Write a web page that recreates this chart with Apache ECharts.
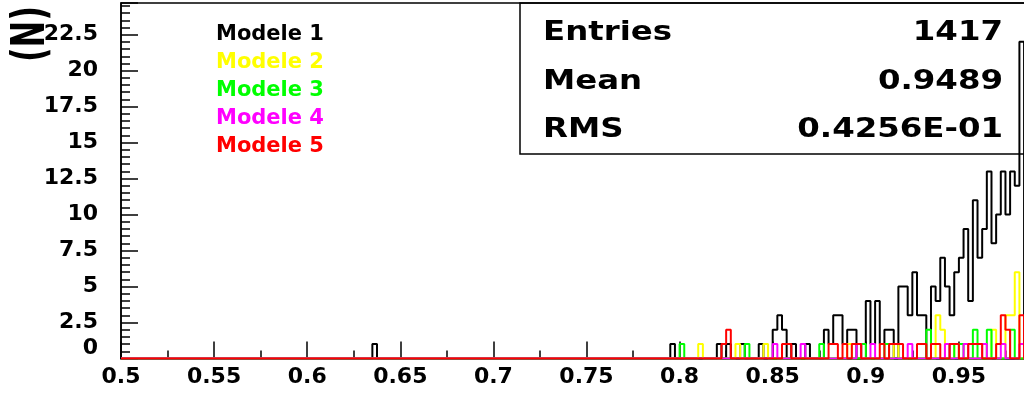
<!DOCTYPE html>
<html>
<head>
<meta charset="utf-8">
<script src="https://cdn.jsdelivr.net/npm/echarts@6/dist/echarts.min.js"></script>
<style>
  html, body { margin: 0; padding: 0; background: #ffffff; }
  #chart { width: 1024px; height: 396px; }
</style>
</head>
<body>
<div id="chart"></div>
<script>
// Histogram binning
const xMin = 0.5;
const xMax = 1.0;
const binWidth = 0.0025;

const seriesNames = ['Modele 1', 'Modele 2', 'Modele 3', 'Modele 4', 'Modele 5'];
const seriesColors = ['#000000', '#ffff00', '#00ff00', '#ff00ff', '#ff0000'];

// Non-empty bins of each model: [lower bin edge, entries]
const modele1 = [
  [0.635, 1], [0.795, 1], [0.82, 1], [0.825, 1], [0.8325, 1], [0.8425, 1],
  [0.85, 2], [0.8525, 3], [0.855, 2], [0.86, 1], [0.8675, 1],
  [0.8775, 2], [0.88, 1], [0.8825, 3], [0.885, 3], [0.8875, 1], [0.89, 2], [0.8925, 2],
  [0.8975, 1], [0.9, 4], [0.9025, 1], [0.905, 4], [0.9075, 1], [0.91, 2], [0.9125, 2],
  [0.9175, 5], [0.92, 5], [0.9225, 3], [0.925, 6], [0.9275, 3], [0.93, 3],
  [0.935, 5], [0.9375, 4], [0.94, 7], [0.9425, 5], [0.945, 3], [0.9475, 6],
  [0.95, 7], [0.9525, 9], [0.955, 4], [0.9575, 11], [0.96, 7], [0.9625, 9],
  [0.965, 13], [0.9675, 8], [0.97, 10], [0.9725, 13], [0.975, 10], [0.9775, 13],
  [0.98, 12], [0.9825, 22]
];
const modele2 = [
  [0.81, 1], [0.83, 1], [0.845, 1], [0.89, 1], [0.915, 1], [0.9375, 3], [0.94, 2],
  [0.9475, 1], [0.9675, 2], [0.975, 3], [0.9775, 3], [0.98, 6]
];
const modele3 = [
  [0.8, 1], [0.835, 1], [0.875, 1], [0.8975, 1], [0.91, 1], [0.9325, 2],
  [0.945, 1], [0.95, 1], [0.9575, 2], [0.965, 2], [0.9775, 2]
];
const modele4 = [
  [0.85, 1], [0.865, 1], [0.895, 1], [0.9025, 1], [0.9225, 1], [0.9425, 1],
  [0.9525, 1], [0.9625, 1], [0.9725, 1], [0.9825, 1]
];
const modele5 = [
  [0.8225, 1], [0.825, 2], [0.855, 1], [0.8575, 1], [0.88, 1], [0.8825, 1],
  [0.8875, 1], [0.8925, 1], [0.895, 1], [0.9075, 1], [0.9125, 1], [0.915, 1],
  [0.9175, 1], [0.9275, 1], [0.93, 1], [0.935, 1], [0.9375, 1], [0.945, 1],
  [0.9475, 1], [0.955, 1], [0.9575, 1], [0.96, 1], [0.97, 1], [0.9725, 3],
  [0.975, 2], [0.9825, 3]
];

const xTickLabels = ['0.5', '0.55', '0.6', '0.65', '0.7', '0.75', '0.8', '0.85', '0.9', '0.95', '1'];
const yTickLabels = ['0', '2.5', '5', '7.5', '10', '12.5', '15', '17.5', '20', '22.5'];
const yTitle = '(N)';

const statsLabels = ['Entries', 'Mean', 'RMS'];
const statsValues = ['1417', '0.9489', '0.4256E-01'];

// Expand sparse bins into a full outline (one point per lower edge, closed at xMax)
function histOutline(bins) {
  const n = Math.round((xMax - xMin) / binWidth);
  const counts = new Array(n).fill(0);
  bins.forEach(([edge, c]) => { counts[Math.round((edge - xMin) / binWidth)] = c; });
  const pts = counts.map((c, i) => [xMin + i * binWidth, c]);
  pts.push([xMax, 0]);
  return pts;
}

const allBins = [modele1, modele2, modele3, modele4, modele5];
const FONT = 'DejaVu Sans';

const chart = echarts.init(document.getElementById('chart'), null, { renderer: 'canvas' });

const statsGraphics = [];
statsLabels.forEach((lab, i) => {
  const y = 33 + i * 48.5;
  statsGraphics.push({
    type: 'text', x: 543, y: y, scaleX: 1.2,
    style: { text: lab, fontFamily: FONT, fontWeight: 'bold', fontSize: 27, fill: '#000',
             textAlign: 'left', textVerticalAlign: 'middle' }
  });
  statsGraphics.push({
    type: 'text', x: 1003, y: y, scaleX: 1.2,
    style: { text: statsValues[i], fontFamily: FONT, fontWeight: 'bold', fontSize: 27, fill: '#000',
             textAlign: 'right', textVerticalAlign: 'middle' }
  });
});

chart.setOption({
  animation: false,
  backgroundColor: '#ffffff',
  grid: {
    left: 121, right: -28, top: 3, bottom: 37.5,
    outerBoundsMode: 'none', containLabel: false,
    show: true, borderColor: '#000', borderWidth: 1.5, backgroundColor: 'transparent'
  },
  legend: {
    orient: 'vertical', left: 211, top: 24, padding: 0, itemGap: 7,
    icon: 'none', itemWidth: 0, itemHeight: 0, selectedMode: false,
    textStyle: { fontFamily: FONT, fontWeight: 'bold', fontSize: 21 },
    data: seriesNames.map((name, i) => ({ name, textStyle: { color: seriesColors[i] } }))
  },
  xAxis: {
    type: 'value', min: xMin, max: xMax, interval: 0.05,
    axisLine: { show: true, lineStyle: { color: '#000', width: 1.5 } },
    axisTick: { show: true, inside: true, length: 17, lineStyle: { color: '#000', width: 1.5 } },
    minorTick: { show: true, splitNumber: 2, length: 8, lineStyle: { color: '#000', width: 1.5 } },
    splitLine: { show: false },
    axisLabel: {
      margin: 8, color: '#000', fontFamily: FONT, fontWeight: 'bold', fontSize: 22,
      formatter: v => xTickLabels[Math.round((v - xMin) / 0.05)] || ''
    }
  },
  yAxis: {
    type: 'value', min: 0, max: 24.7, interval: 2.5,
    axisLine: { show: true, lineStyle: { color: '#000', width: 1.5 } },
    axisTick: { show: true, inside: true, length: 17, lineStyle: { color: '#000', width: 1.5 } },
    minorTick: { show: true, splitNumber: 5, length: 9, lineStyle: { color: '#000', width: 1.5 } },
    splitLine: { show: false },
    axisLabel: {
      margin: 23, color: '#000', fontFamily: FONT, fontWeight: 'bold', fontSize: 22,
      showMaxLabel: false,
      formatter: v => {
        const idx = Math.round(v / 2.5);
        if (Math.abs(idx * 2.5 - v) > 1e-6) return '';
        const t = yTickLabels[idx] || '';
        return idx === 0 ? '{zero|' + t + '}' : t;
      },
      rich: { zero: { fontFamily: FONT, fontWeight: 'bold', fontSize: 22, color: '#000', padding: [0, 0, 20, 0] } }
    }
  },
  graphic: [
    {
      type: 'text', x: 32, y: 34, rotation: Math.PI / 2, scaleY: 1.45,
      style: { text: yTitle, fontFamily: FONT, fontWeight: 'bold', fontSize: 32, fill: '#000',
               textAlign: 'center', textVerticalAlign: 'middle' }
    },
    {
      type: 'rect', shape: { x: 520, y: 3, width: 600, height: 151 },
      style: { fill: 'none', stroke: '#000', lineWidth: 1.5 }
    }
  ].concat(statsGraphics),
  series: allBins.map((bins, i) => ({
    name: seriesNames[i],
    type: 'line',
    step: 'end',
    showSymbol: false,
    symbol: 'none',
    data: histOutline(bins),
    color: seriesColors[i],
    lineStyle: { color: seriesColors[i], width: 2 },
    z: 2 + i
  }))
});
</script>
</body>
</html>
